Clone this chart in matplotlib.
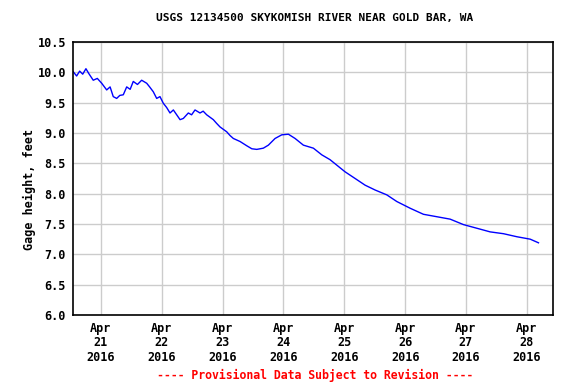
import matplotlib
matplotlib.use("Agg")
import matplotlib.pyplot as plt

# Data: days after Apr 21 00:00 and gage height (ft)
day = [-0.456, -0.40, -0.35, -0.30, -0.247, -0.20, -0.127, -0.06, 0.012, 0.094,
       0.15, 0.202, 0.258, 0.31, 0.367, 0.423, 0.48, 0.531, 0.60, 0.669,
       0.752, 0.80, 0.860, 0.916, 0.97, 1.025, 1.08, 1.135, 1.19, 1.245,
       1.30, 1.354, 1.436, 1.49, 1.546, 1.628, 1.68, 1.738, 1.847, 1.90,
       1.957, 2.067, 2.12, 2.176, 2.286, 2.396, 2.48, 2.561, 2.669, 2.752,
       2.862, 2.972, 3.081, 3.191, 3.327, 3.492, 3.630, 3.766, 3.877, 4.013,
       4.178, 4.342, 4.507, 4.699, 4.864, 5.082, 5.301, 5.521, 5.740, 5.959,
       6.179, 6.398, 6.617, 6.837, 7.056, 7.192]
gage = [10.01, 9.94, 10.02, 9.97, 10.06, 9.98, 9.87, 9.90, 9.82, 9.71,
        9.76, 9.60, 9.57, 9.62, 9.63, 9.76, 9.72, 9.85, 9.80, 9.87,
        9.82, 9.76, 9.68, 9.57, 9.60, 9.49, 9.42, 9.33, 9.38, 9.30,
        9.22, 9.24, 9.33, 9.30, 9.38, 9.33, 9.36, 9.30, 9.22, 9.16,
        9.10, 9.02, 8.96, 8.91, 8.86, 8.79, 8.74, 8.73, 8.75, 8.80,
        8.91, 8.97, 8.98, 8.91, 8.80, 8.75, 8.64, 8.56, 8.47, 8.36,
        8.25, 8.14, 8.06, 7.98, 7.87, 7.76, 7.66, 7.62, 7.58, 7.49,
        7.43, 7.37, 7.34, 7.29, 7.25, 7.19]

tick_days = [0, 1, 2, 3, 4, 5, 6, 7]
tick_labels = ["Apr\n21\n2016", "Apr\n22\n2016", "Apr\n23\n2016", "Apr\n24\n2016",
               "Apr\n25\n2016", "Apr\n26\n2016", "Apr\n27\n2016", "Apr\n28\n2016"]
y_ticks = [6.0, 6.5, 7.0, 7.5, 8.0, 8.5, 9.0, 9.5, 10.0, 10.5]

mono = "DejaVu Sans Mono"

fig = plt.figure(figsize=(5.76, 3.84), dpi=100)
ax = fig.add_axes([0.1267, 0.1797, 0.8333, 0.7109])

ax.plot(day, gage, color="#0000ff", lw=1.0)

ax.set_xlim(-0.46, 7.43)
ax.set_ylim(6.0, 10.5)
ax.set_xticks(tick_days)
ax.set_xticklabels(tick_labels, fontfamily=mono, fontweight="bold", fontsize=8.5,
                   linespacing=1.15)
ax.set_yticks(y_ticks)
ax.set_yticklabels(["%.1f" % v for v in y_ticks], fontfamily=mono,
                   fontweight="bold", fontsize=8.5)
ax.tick_params(length=0, pad=5)
ax.grid(True, color="#cccccc", lw=1)
ax.set_axisbelow(True)
for s in ax.spines.values():
    s.set_linewidth(1.2)

ax.set_ylabel("Gage height, feet", fontfamily=mono, fontweight="bold", fontsize=8.5,
              labelpad=1)
ax.yaxis.label.set_y(0.46)
fig.text(0.547, 0.953, "USGS 12134500 SKYKOMISH RIVER NEAR GOLD BAR, WA",
         ha="center", va="center", fontfamily=mono, fontweight="bold", fontsize=8)
fig.text(0.547, 0.023, "---- Provisional Data Subject to Revision ----",
         ha="center", va="center", fontfamily=mono, fontweight="bold", fontsize=8.3,
         color="red")

fig.savefig("out.png", dpi=100)
